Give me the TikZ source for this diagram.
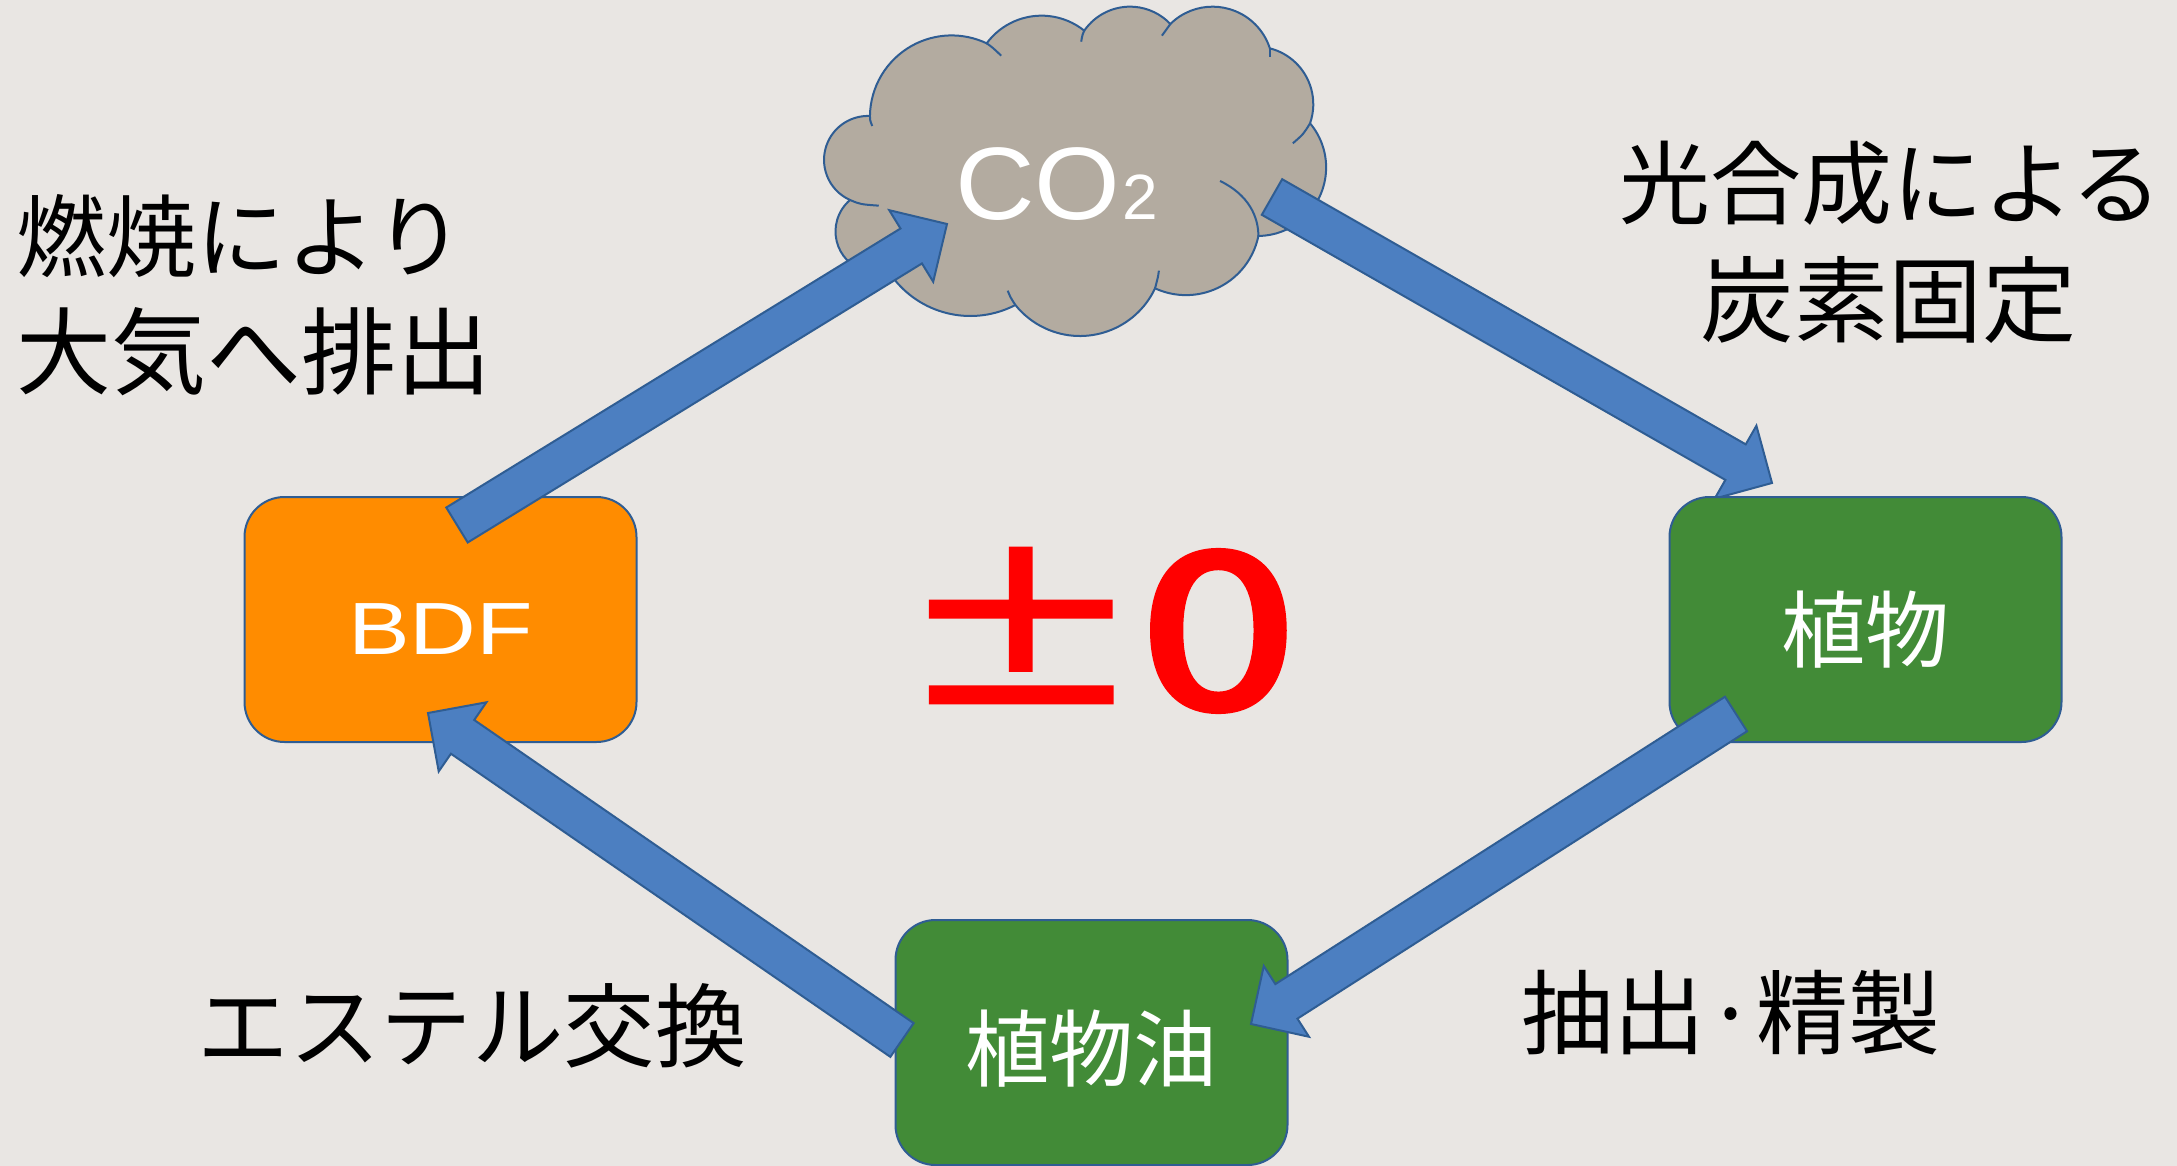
\documentclass[tikz,border=0pt]{standalone}
\usepackage{fontspec}
\usepackage{graphicx}
\usetikzlibrary{calc}
\setmainfont{Liberation Sans}
\newfontfamily\jp{Noto Sans CJK JP}
\newfontfamily\jpheavy[FakeBold=3]{Noto Sans CJK JP}
\definecolor{bgc}{HTML}{E9E6E3}
\definecolor{cloudc}{HTML}{B3ABA0}
\definecolor{greenc}{HTML}{428B37}
\definecolor{orangec}{HTML}{FF8C00}
\definecolor{bluec}{HTML}{4C7FC1}
\definecolor{edgec}{HTML}{2F5D93}
\definecolor{redc}{HTML}{FF0000}
\tikzset{
  box/.style={draw=edgec,line width=2pt,rounded corners=40pt,minimum width=392pt,minimum height=245pt,inner sep=0pt,text=white},
  jptext/.style={font=\jp\fontsize{84}{84}\selectfont},
  lab/.style={text=black,inner sep=0pt},
  cloudline/.style={draw=edgec,line width=2pt},
  blockarrow/.style={draw=edgec,line width=2pt,fill=bluec,line join=miter}
}
% circle through three points given in crop units: A, P, B (x/2.613, y/3 px)
\newcommand{\mklobe}[7]{%
  \pgfmathsetmacro\ux{(#4-#2)/261.3}\pgfmathsetmacro\uy{(#5-#3)/300}%
  \pgfmathsetmacro\vx{(#6-#2)/261.3}\pgfmathsetmacro\vy{(#7-#3)/300}%
  \pgfmathsetmacro\dd{2*(\ux*\vy-\uy*\vx)}%
  \pgfmathsetmacro\su{\ux*\ux+\uy*\uy}\pgfmathsetmacro\sv{\vx*\vx+\vy*\vy}%
  \pgfmathsetmacro\cx{(\vy*\su-\uy*\sv)/\dd}\pgfmathsetmacro\cy{(\ux*\sv-\vx*\su)/\dd}%
  \pgfmathsetmacro\rr{100*sqrt(\cx*\cx+\cy*\cy)}%
  \pgfmathsetmacro\sa{atan2(-\cy,-\cx)}\pgfmathsetmacro\ea{atan2(\vy-\cy,\vx-\cx)}%
  \pgfmathsetmacro\ea{\ea<\sa?\ea+360:\ea}%
  \expandafter\xdef\csname sa#1\endcsname{\sa}%
  \expandafter\xdef\csname ea#1\endcsname{\ea}%
  \expandafter\xdef\csname rr#1\endcsname{\rr}%
}
\newcommand{\lobeto}[1]{arc[start angle=\csname sa#1\endcsname,end angle=\csname ea#1\endcsname,radius=\csname rr#1\endcsname]}
\mklobe{a}{540}{130}{680}{47}{795}{92}
\mklobe{b}{795}{92}{912}{20}{1020}{72}
\mklobe{c}{1020}{72}{1130}{20}{1280}{145}
\mklobe{d}{1280}{145}{1370}{220}{1385}{370}
\mklobe{e}{1385}{370}{1427}{500}{1250}{708}
\mklobe{f}{1250}{708}{1072}{885}{980}{865}
\mklobe{g}{980}{865}{785}{1008}{615}{915}
\mklobe{h}{615}{915}{495}{948}{300}{840}
\mklobe{i}{175}{780}{145}{695}{183}{600}
\mklobe{j}{183}{600}{115}{480}{235}{348}
\mklobe{k}{235}{348}{432}{107}{540}{130}
\newcommand{\cpt}[2]{({780+(#1)/2.613},{(#2)/3})}
\newcommand{\barrow}[2]{%
  \coordinate (hb) at ($(#2)!42pt!(#1)$);
  \draw[blockarrow]
    ($(#1)!20.5pt!90:(#2)$) -- ($(hb)!20.5pt!-90:(#1)$) -- ($(hb)!42pt!-90:(#1)$) -- (#2)
    -- ($(hb)!42pt!90:(#1)$) -- ($(hb)!20.5pt!90:(#1)$) -- ($(#1)!20.5pt!-90:(#2)$) -- cycle;}
\begin{document}
\begin{tikzpicture}[x=1pt,y=-1pt]
\useasboundingbox[fill=bgc] (0,0) rectangle (2177,1166);
% arrow ends
\coordinate (a1s) at (457,525);  \coordinate (a1e) at (947,224);
\coordinate (a2s) at (1272,197); \coordinate (a2e) at (1772,483);
\coordinate (a3s) at (1736,714); \coordinate (a3e) at (1251,1024);
\coordinate (a4s) at (902,1040); \coordinate (a4e) at (428,713);
% cloud
\filldraw[cloudline,fill=cloudc,line join=miter]
  \cpt{540}{130} \lobeto{a} -- \cpt{795}{92} \lobeto{b} -- \cpt{1020}{72} \lobeto{c}
  -- \cpt{1280}{145} \lobeto{d} -- \cpt{1385}{370} \lobeto{e}
  -- \cpt{1250}{708} \lobeto{f} -- \cpt{980}{865} \lobeto{g}
  -- \cpt{615}{915} \lobeto{h} -- \cpt{175}{780} \lobeto{i}
  -- \cpt{183}{600} \lobeto{j} -- \cpt{235}{348} \lobeto{k} -- cycle;
\draw[cloudline] \cpt{540}{130} .. controls \cpt{555}{142} .. \cpt{578}{167};
\draw[cloudline] \cpt{795}{92} .. controls \cpt{790}{105} .. \cpt{787}{125};
\draw[cloudline] \cpt{1020}{72} .. controls \cpt{1008}{88} .. \cpt{998}{107};
\draw[cloudline] \cpt{1280}{145} -- \cpt{1280}{170};
\draw[cloudline] \cpt{1385}{370} .. controls \cpt{1368}{402} .. \cpt{1340}{430};
\draw[cloudline] \cpt{1150}{543} .. controls \cpt{1225}{585} and \cpt{1250}{650} .. \cpt{1250}{708};
\draw[cloudline] \cpt{990}{812} .. controls \cpt{988}{830} .. \cpt{980}{865};
\draw[cloudline] \cpt{595}{872} .. controls \cpt{602}{892} .. \cpt{615}{915};
\draw[cloudline] \cpt{183}{600} .. controls \cpt{210}{613} .. \cpt{258}{617};
\draw[cloudline] \cpt{235}{348} .. controls \cpt{235}{360} .. \cpt{241}{378};
\node[text=white,inner sep=0pt,anchor=base west,font=\fontsize{103}{103}\selectfont] (co2) at (955,220)
  {\scalebox{1.07}[1]{CO}{\fontsize{64}{64}\selectfont\,\kern-9pt 2}};
% arrow behind plant box
\barrow{a2s}{a2e}
% nodes
\node[box,fill=orangec,font=\fontsize{74}{74}\selectfont] (bdf) at (440.5,619.5) {\raisebox{-34.5pt}[0pt][0pt]{\scalebox{1.25}[1]{BDF}}};
\node[box,fill=greenc,jptext] (plant) at (1865.5,619.5) {\raisebox{-41.5pt}[0pt][0pt]{植物}};
\node[box,fill=greenc,jptext] (oil) at (1091.5,1042.5) {\raisebox{-37.5pt}[0pt][0pt]{植物油}};
% arrows
\barrow{a1s}{a1e}
\barrow{a4s}{a4e}
\barrow{a3s}{a3e}
% labels
\node[lab,anchor=west,font=\jp\fontsize{90}{90}\selectfont] (l1) at (16,236) {燃焼により};
\node[lab,anchor=west,font=\jp\fontsize{95}{95}\selectfont] (l2) at (16,352) {大気へ排出};
\node[lab,font=\jp\fontsize{91}{91}\selectfont] (r1) at (1891,183) {光合成による};
\node[lab,font=\jp\fontsize{94}{94}\selectfont] (r2) at (1888,300) {炭素固定};
\node[lab,font=\jp\fontsize{92}{92}\selectfont] (b1) at (1731,1013) {抽出·精製};
\node[lab,font=\jp\fontsize{91.5}{91.5}\selectfont] (b2) at (472,1026) {エステル交換};
\node[text=redc,inner sep=0pt,anchor=base west,font=\jpheavy\fontsize{225}{225}\selectfont] (zero) at (899,708)
  {\raisebox{3pt}{\scalebox{1.08}[.86]{±}}\kern-2pt\scalebox{1.25}[.96]{0}};
\end{tikzpicture}
\end{document}
